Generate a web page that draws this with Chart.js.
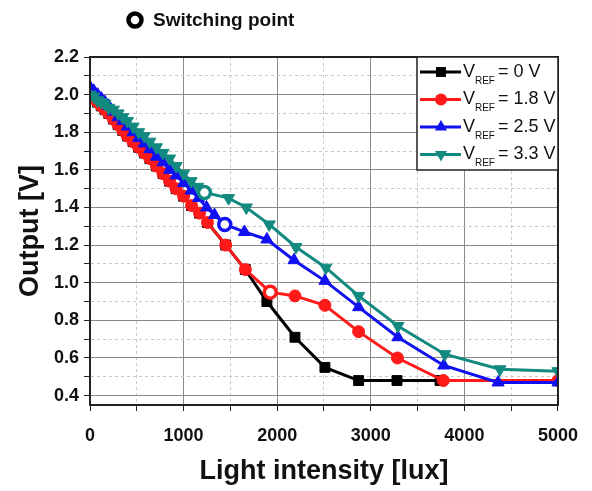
<!DOCTYPE html>
<html>
<head>
<meta charset="utf-8">
<script src="https://cdn.jsdelivr.net/npm/chart.js@4.4.1/dist/chart.umd.min.js"></script>
<style>
  html, body { margin: 0; padding: 0; background: #fff; }
  #wrap { width: 592px; height: 491px; position: relative; }
</style>
</head>
<body>
<div id="wrap"><canvas id="chart"></canvas></div>
<script>
// values
const blackX = [0, 40, 80, 120, 160, 200, 250, 300, 350, 400, 460, 520, 580, 640, 710, 780, 850, 920, 1000, 1085, 1170, 1255, 1450, 1660, 1890, 2190, 2510, 2870, 3280, 3740];
const blackY = [2.00, 1.98, 1.96, 1.94, 1.92, 1.90, 1.87, 1.84, 1.81, 1.78, 1.75, 1.72, 1.69, 1.66, 1.62, 1.58, 1.54, 1.50, 1.46, 1.41, 1.37, 1.32, 1.20, 1.07, 0.90, 0.71, 0.55, 0.48, 0.48, 0.48];

const redX = [0, 40, 80, 120, 160, 200, 250, 300, 350, 400, 460, 520, 580, 640, 710, 780, 850, 920, 1000, 1085, 1170, 1255, 1450, 1660, 1926, 2190, 2510, 2870, 3285, 3775, 5000];
const redY = [2.00, 1.98, 1.96, 1.94, 1.92, 1.90, 1.87, 1.84, 1.81, 1.78, 1.75, 1.72, 1.69, 1.66, 1.62, 1.58, 1.54, 1.50, 1.46, 1.41, 1.37, 1.32, 1.20, 1.07, 0.95, 0.93, 0.88, 0.74, 0.60, 0.48, 0.48];

const blueX = [0, 40, 80, 120, 160, 200, 250, 300, 350, 400, 460, 520, 580, 640, 710, 780, 850, 920, 1000, 1080, 1160, 1245, 1330, 1440, 1650, 1890, 2180, 2510, 2870, 3290, 3780, 4360, 5000];
const blueY = [2.04, 2.02, 2.00, 1.98, 1.96, 1.94, 1.91, 1.88, 1.86, 1.83, 1.80, 1.77, 1.74, 1.71, 1.67, 1.64, 1.60, 1.57, 1.53, 1.49, 1.45, 1.40, 1.36, 1.31, 1.27, 1.23, 1.12, 1.01, 0.87, 0.71, 0.56, 0.47, 0.47];

const tealX = [0, 40, 80, 120, 160, 200, 250, 300, 350, 400, 460, 520, 580, 640, 710, 780, 850, 920, 1000, 1080, 1150, 1223, 1480, 1670, 1915, 2200, 2520, 2870, 3290, 3790, 4380, 5000];
const tealY = [2.00, 1.99, 1.97, 1.96, 1.95, 1.93, 1.92, 1.90, 1.88, 1.86, 1.83, 1.80, 1.78, 1.75, 1.72, 1.69, 1.66, 1.62, 1.58, 1.54, 1.51, 1.48, 1.45, 1.40, 1.31, 1.19, 1.08, 0.93, 0.77, 0.62, 0.54, 0.53];

// switching points (open circles): red, blue, teal
const switchX = [1926, 1440, 1223];
const switchY = [0.95, 1.31, 1.48];

const seriesNames = ['0 V', '1.8 V', '2.5 V', '3.3 V'];
const seriesColors = ['#000000', '#ff1a1a', '#1010f0', '#138a80'];
const xTickValues = [0, 500, 1000, 1500, 2000, 2500, 3000, 3500, 4000, 4500, 5000];
const yTickValues = [0.4, 0.5, 0.6, 0.7, 0.8, 0.9, 1.0, 1.1, 1.2, 1.3, 1.4, 1.5, 1.6, 1.7, 1.8, 1.9, 2.0, 2.1, 2.2];

const pts = (xs, ys) => xs.map((x, i) => ({x: x, y: ys[i]}));
const FONT = '"Liberation Sans", Arial, sans-serif';

const styles = [
  {pointStyle: 'rect', radius: 7, rotation: 0},
  {pointStyle: 'circle', radius: 6, rotation: 0},
  {pointStyle: 'triangle', radius: 7, rotation: 0},
  {pointStyle: 'triangle', radius: 7, rotation: 180}
];
const allX = [blackX, redX, blueX, tealX];
const allY = [blackY, redY, blueY, tealY];

const datasets = seriesNames.map((name, i) => ({
  label: 'V_REF = ' + name,
  data: pts(allX[i], allY[i]),
  borderColor: seriesColors[i],
  backgroundColor: seriesColors[i],
  borderWidth: 3,
  pointStyle: styles[i].pointStyle,
  pointRadius: styles[i].radius,
  pointRotation: styles[i].rotation,
  pointBorderWidth: 1,
  order: 4 - i,
  showLine: true
}));

switchX.forEach((x, i) => {
  datasets.push({
    label: 'switch' + i,
    data: [{x: x, y: switchY[i]}],
    showLine: false,
    pointStyle: 'circle',
    pointRadius: 6,
    pointBorderWidth: 3.5,
    pointBackgroundColor: '#ffffff',
    pointBorderColor: seriesColors[i + 1],
    order: 0
  });
});

// frame, legend box and "Switching point" note
const extras = {
  id: 'extras',
  afterDraw(c) {
    const ctx = c.ctx;
    const a = c.chartArea;
    ctx.save();
    ctx.strokeStyle = '#222';
    ctx.lineWidth = 2;
    ctx.strokeRect(a.left, a.top, a.right - a.left, a.bottom - a.top);

    // legend
    const lx = a.right - 141, ly = a.top, lw = 141, lh = 113;
    ctx.fillStyle = '#fff';
    ctx.fillRect(lx, ly, lw, lh);
    ctx.lineWidth = 1.5;
    ctx.strokeStyle = '#222';
    ctx.strokeRect(lx, ly, lw, lh);
    seriesNames.forEach((name, i) => {
      const y = ly + 15 + i * 27.5;
      ctx.strokeStyle = seriesColors[i];
      ctx.lineWidth = 3;
      ctx.beginPath();
      ctx.moveTo(lx + 3, y);
      ctx.lineTo(lx + 44, y);
      ctx.stroke();
      ctx.fillStyle = seriesColors[i];
      ctx.strokeStyle = seriesColors[i];
      ctx.lineWidth = 1;
      Chart.helpers.drawPoint(ctx, {pointStyle: styles[i].pointStyle, rotation: styles[i].rotation, radius: styles[i].radius}, lx + 24, y);
      ctx.fillStyle = '#111';
      ctx.textBaseline = 'middle';
      ctx.textAlign = 'left';
      ctx.font = '18px ' + FONT;
      ctx.fillText('V', lx + 46, y);
      ctx.font = '10px ' + FONT;
      ctx.fillText('REF', lx + 58, y + 9);
      ctx.font = '18px ' + FONT;
      ctx.fillText('= ' + name, lx + 81, y);
    });

    // switching point note
    ctx.beginPath();
    ctx.arc(135, 20, 6.5, 0, Math.PI * 2);
    ctx.lineWidth = 4.5;
    ctx.strokeStyle = '#000';
    ctx.stroke();
    ctx.fillStyle = '#111';
    ctx.font = 'bold 19px ' + FONT;
    ctx.textBaseline = 'middle';
    ctx.fillText('Switching point', 153, 21);
    ctx.restore();
  }
};

const isMajorX = v => v % 1000 === 0;
const isMajorY = v => Math.round(v * 10) % 2 === 0;

new Chart(document.getElementById('chart'), {
  type: 'scatter',
  data: {datasets: datasets},
  options: {
    responsive: true,
    maintainAspectRatio: false,
    animation: false,
    layout: {padding: {top: 57, right: 31, left: 0, bottom: 0}},
    plugins: {legend: {display: false}, tooltip: {enabled: false}},
    scales: {
      x: {
        type: 'linear',
        min: 0,
        max: 5000,
        afterFit: s => { s.height = 86; },
        afterBuildTicks: s => { s.ticks = xTickValues.map(v => ({value: v})); },
        ticks: {
          autoSkip: false,
          maxRotation: 0,
          padding: 14,
          color: '#111',
          font: {family: FONT, size: 18, weight: 'bold'},
          callback: v => isMajorX(v) ? String(v) : ''
        },
        grid: {
          color: ctx => ctx.tick && isMajorX(ctx.tick.value) ? '#8a8a8a' : '#c8c8c8',
          lineWidth: 1,
          tickLength: 6,
          tickColor: '#222'
        },
        border: {color: '#222', width: 2, dash: ctx => ctx.tick && isMajorX(ctx.tick.value) ? [] : [3, 3]},
        title: {
          display: true,
          text: 'Light intensity [lux]',
          color: '#111',
          font: {family: FONT, size: 27, weight: 'bold'},
          padding: {top: 2, bottom: 3}
        }
      },
      y: {
        type: 'linear',
        min: 0.35,
        max: 2.2,
        afterFit: s => { s.width = 90; },
        afterBuildTicks: s => { s.ticks = yTickValues.map(v => ({value: v})); },
        ticks: {
          autoSkip: false,
          padding: 5,
          color: '#111',
          font: {family: FONT, size: 18, weight: 'bold'},
          callback: v => isMajorY(v) ? v.toFixed(1) : ''
        },
        grid: {
          color: ctx => ctx.tick && isMajorY(ctx.tick.value) ? '#8a8a8a' : '#c8c8c8',
          lineWidth: 1,
          tickLength: 6,
          tickColor: '#222'
        },
        border: {color: '#222', width: 2, dash: ctx => ctx.tick && isMajorY(ctx.tick.value) ? [] : [3, 3]},
        title: {
          display: true,
          text: 'Output [V]',
          color: '#111',
          font: {family: FONT, size: 27, weight: 'bold'},
          padding: {top: 14, bottom: 0}
        }
      }
    }
  },
  plugins: [extras]
});
</script>
</body>
</html>
